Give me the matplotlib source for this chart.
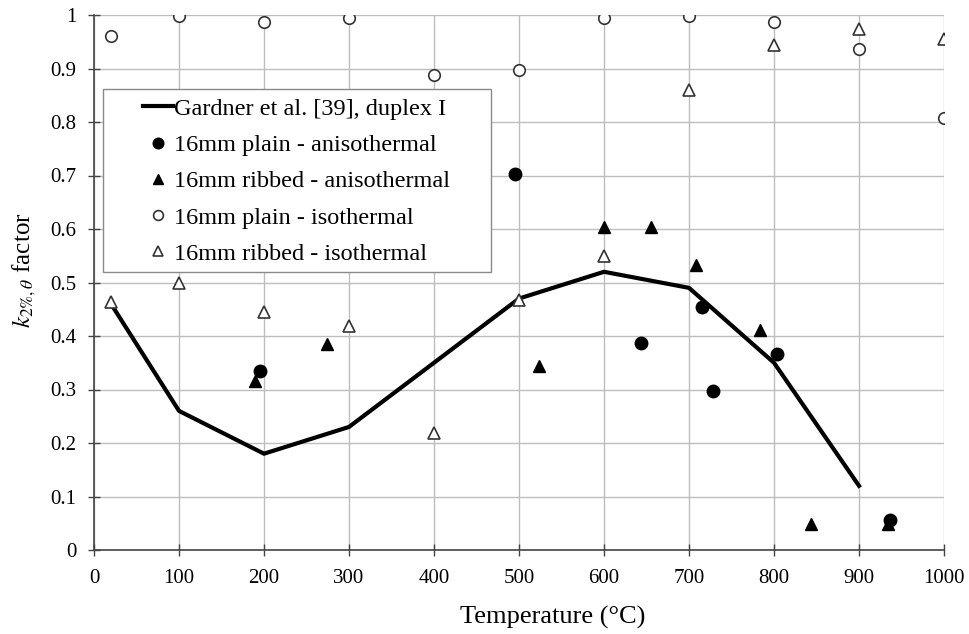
import matplotlib
matplotlib.use("Agg")
import matplotlib.pyplot as plt
from matplotlib.patches import Rectangle

# Gardner et al. reference curve
gard_t = [20, 100, 200, 300, 400, 500, 600, 700, 800, 900]
gard_k = [0.46, 0.26, 0.18, 0.23, 0.35, 0.47, 0.52, 0.49, 0.35, 0.12]

# 16mm plain - anisothermal
pa_t = [195, 495, 644, 715, 728, 804, 937]
pa_k = [0.335, 0.703, 0.387, 0.455, 0.297, 0.366, 0.056]

# 16mm ribbed - anisothermal
ra_t = [189, 274, 523, 600, 655, 708, 783, 843, 934]
ra_k = [0.315, 0.385, 0.343, 0.603, 0.603, 0.532, 0.411, 0.048, 0.048]

# 16mm plain - isothermal
pi_t = [20, 100, 200, 300, 400, 500, 600, 700, 800, 900, 1000]
pi_k = [0.96, 0.998, 0.987, 0.995, 0.888, 0.897, 0.995, 0.998, 0.987, 0.937, 0.808]

# 16mm ribbed - isothermal
ri_t = [20, 100, 200, 300, 400, 500, 600, 700, 800, 900, 1000]
ri_k = [0.463, 0.499, 0.445, 0.419, 0.219, 0.468, 0.549, 0.859, 0.943, 0.973, 0.955]

plt.rcParams['font.family'] = ['Liberation Serif', 'DejaVu Serif']
plt.rcParams['mathtext.fontset'] = 'stix'

fig = plt.figure(figsize=(9.69, 6.34), dpi=100)
ax = fig.add_axes([94 / 969, 84 / 634, 850 / 969, 535 / 634])

ax.plot(gard_t, gard_k, color='black', lw=3, label='Gardner et al. [39], duplex I', zorder=3)
ax.plot(pa_t, pa_k, 'o', color='black', ms=9, label='16mm plain - anisothermal', zorder=4)
ax.plot(ra_t, ra_k, '^', color='black', ms=8.5, label='16mm ribbed - anisothermal', zorder=4)
ax.plot(pi_t, pi_k, 'o', mfc='white', mec='#333333', mew=1.2, ms=8.3,
        label='16mm plain - isothermal', zorder=4)
ax.plot(ri_t, ri_k, '^', mfc='white', mec='#333333', mew=1.2, ms=8.5,
        label='16mm ribbed - isothermal', zorder=4)

ax.set_xlim(0, 1000)
ax.set_ylim(0, 1)
ax.set_xticks(range(0, 1001, 100))
ax.set_yticks([i / 10 for i in range(11)])
ax.set_yticklabels(['0'] + ['0.%d' % i for i in range(1, 10)] + ['1'])
ax.grid(True, color='#bdbdbd', lw=1)
ax.set_axisbelow(True)
for s in ['top', 'right']:
    ax.spines[s].set_visible(False)
for s in ['left', 'bottom']:
    ax.spines[s].set_color('#444444')
    ax.spines[s].set_linewidth(1.2)
ax.tick_params(direction='inout', length=9, width=1, color='#444444', labelsize=15)
ax.tick_params(axis='y', pad=8)
ax.tick_params(axis='x', pad=9)

ax.set_xlabel('Temperature (°C)', fontsize=19)
ax.xaxis.set_label_coords(0.54, -0.105)
ax.set_ylabel(r'$k_{2\%,\theta}$ factor', fontsize=18)
ax.yaxis.set_label_coords(-0.066, 0.523)

# legend frame drawn separately (wide left padding in the original)
ax.add_patch(Rectangle((0.0106, 0.5196), 0.4565, 0.342, transform=ax.transAxes,
                       facecolor='white', edgecolor='#8a8a8a', lw=1, zorder=5))
leg = ax.legend(loc='upper left', bbox_to_anchor=(0.0576, 0.845), fontsize=17.5,
                frameon=False, handlelength=1.22, handletextpad=0.05,
                borderpad=0, borderaxespad=0, labelspacing=0.585, markerscale=0.85)
leg.set_zorder(6)

fig.savefig('out.png', dpi=100)
